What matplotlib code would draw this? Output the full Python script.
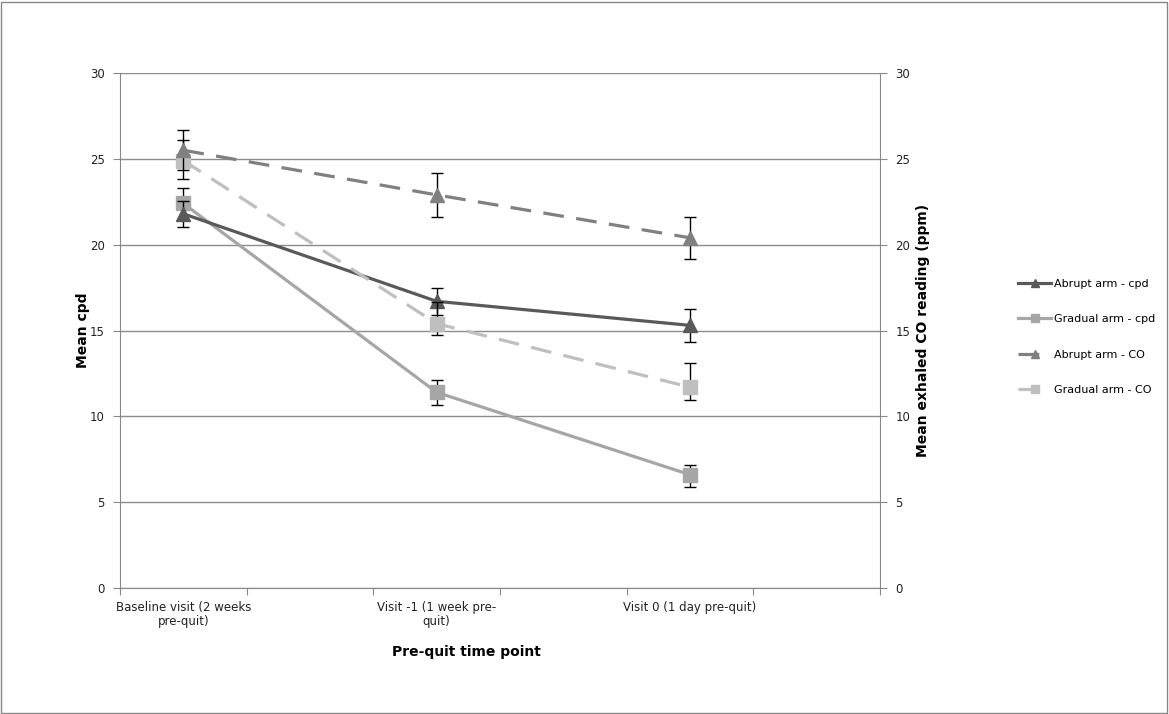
import matplotlib
matplotlib.use("Agg")
import matplotlib.pyplot as plt
from matplotlib.patches import Rectangle

# categories (Excel axis has 6 slots, data only in 0, 2, 4)
time_points = [
    "Baseline visit (2 weeks\npre-quit)",
    "Visit -1 (1 week pre-\nquit)",
    "Visit 0 (1 day pre-quit)",
]
x_pos = [0, 2, 4]

# mean cigarettes per day
abrupt_cpd = [21.8, 16.7, 15.3]
abrupt_cpd_lo = [0.76, 0.80, 0.96]
abrupt_cpd_hi = [0.76, 0.78, 0.96]

gradual_cpd = [22.4, 11.4, 6.6]
gradual_cpd_lo = [0.93, 0.73, 0.70]
gradual_cpd_hi = [0.93, 0.73, 0.57]

# mean exhaled CO (ppm)
abrupt_co = [25.5, 22.9, 20.4]
abrupt_co_lo = [1.17, 1.28, 1.23]
abrupt_co_hi = [1.17, 1.28, 1.23]

gradual_co = [24.9, 15.4, 11.7]
gradual_co_lo = [1.05, 0.64, 0.74]
gradual_co_hi = [1.17, 1.26, 1.43]

W, H = 1169, 714
fig = plt.figure(figsize=(W / 100, H / 100), dpi=100)
plt.rcParams['font.family'] = ['DejaVu Sans']

ax = fig.add_axes([120 / W, 1 - 588 / H, 760 / W, 515 / H])
ax2 = ax.twinx()

# chart border
fig.patches.append(Rectangle((1 / W, 1 / H), 1 - 3 / W, 1 - 3 / H,
                             transform=fig.transFigure, fill=False,
                             edgecolor="#888888", linewidth=1))

lw = 2.3
err_kw = dict(ecolor="black", elinewidth=1, capsize=4, capthick=1)

l1 = ax.errorbar(x_pos, abrupt_cpd, yerr=[abrupt_cpd_lo, abrupt_cpd_hi],
                 color="#595959", lw=lw, marker="^", ms=10,
                 label="Abrupt arm - cpd", zorder=4, **err_kw)
l2 = ax.errorbar(x_pos, gradual_cpd, yerr=[gradual_cpd_lo, gradual_cpd_hi],
                 color="#A6A6A6", lw=lw, marker="s", ms=10,
                 label="Gradual arm - cpd", zorder=3, **err_kw)
l3 = ax2.errorbar(x_pos, abrupt_co, yerr=[abrupt_co_lo, abrupt_co_hi],
                  color="#808080", lw=lw, marker="^", ms=10,
                  ls=(0, (6.5, 3.9)), label="Abrupt arm - CO", zorder=4, **err_kw)
l4 = ax2.errorbar(x_pos, gradual_co, yerr=[gradual_co_lo, gradual_co_hi],
                  color="#BFBFBF", lw=lw, marker="s", ms=10,
                  ls=(0, (6.5, 3.9)), label="Gradual arm - CO", zorder=3, **err_kw)

for a in (ax, ax2):
    a.set_ylim(0, 30)
    a.set_yticks(range(0, 31, 5))
    a.set_xlim(-0.5, 5.5)
    for s in a.spines.values():
        s.set_visible(False)
    a.tick_params(axis="y", length=5, color="#888888", labelsize=8.5,
                  labelcolor="#222222", pad=6)

ax.spines["left"].set_visible(True)
ax.spines["left"].set_color("#888888")
ax2.spines["right"].set_visible(True)
ax2.spines["right"].set_color("#888888")
ax.spines["bottom"].set_visible(True)
ax.spines["bottom"].set_color("#888888")

ax.yaxis.grid(True, color="#8C8C8C", lw=1)
ax.set_axisbelow(True)

# category ticks between slots, labels centred on data slots
ax.set_xticks([i - 0.5 for i in range(7)])
ax.set_xticklabels([])
ax.set_xticks(x_pos, minor=True)
ax.set_xticklabels(time_points, minor=True, fontsize=8.5, color="#222222")
ax.tick_params(axis="x", which="major", length=5, color="#888888")
ax.tick_params(axis="x", which="minor", length=0, pad=9)

ax.set_ylabel("Mean cpd", fontsize=10, fontweight="bold", labelpad=0)
ax2.set_ylabel("Mean exhaled CO reading (ppm)", fontsize=10,
               fontweight="bold", labelpad=4)
ax.set_xlabel("Pre-quit time point", fontsize=10, fontweight="bold")
ax.xaxis.set_label_coords((466 - 120) / 760, -0.11)

handles = [l1, l2, l3, l4]
fig.legend([h[0] for h in handles], [h.get_label() for h in handles],
           loc="center left", bbox_to_anchor=(1008 / W, 1 - 337 / H),
           frameon=False, fontsize=8, labelspacing=2.3, handlelength=3,
           handletextpad=0.2, markerscale=0.6)

fig.savefig("out.png", dpi=100)
